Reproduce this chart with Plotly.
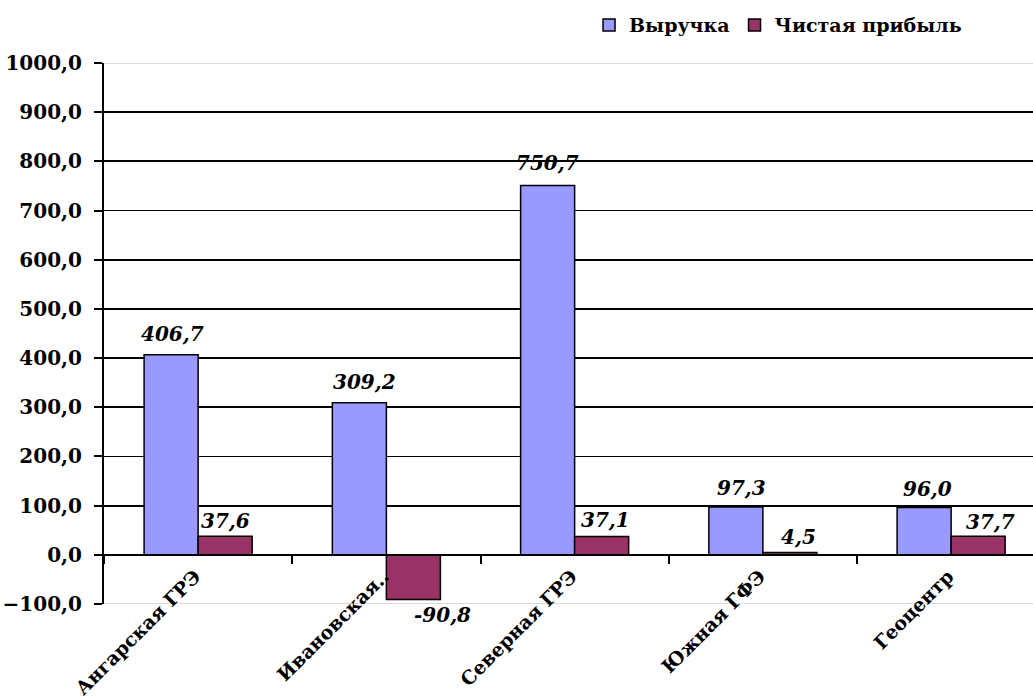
import plotly.graph_objects as go

categories = ["Ангарская ГРЭ", "Ивановская..", "Северная ГРЭ", "Южная ГФЭ", "Геоцентр"]
revenue = [406.7, 309.2, 750.7, 97.3, 96.0]
net_profit = [37.6, -90.8, 37.1, 4.5, 37.7]
series_names = ["Выручка", "Чистая прибыль"]
y_min, y_max, y_step = -100, 1000, 100

# ---- style / layout (not data) ----
FONT = "DejaVu Serif"
W, H = 1033, 699
ML, MT, MB, MR = 104, 63, 95, 0
plot_w = W - ML - MR
cat_px = 188.25                       # pixel width of one category slot
x_span = plot_w / cat_px              # plot area runs past the right edge (cropped)
bargap = 0.426
bar_px = (1 - bargap) * cat_px / 2
# manual label nudges (pixels) as in the original chart
rev_dx, rev_dy = [1, 5, 0, 6, 3], [21, 21, 23, 19, 19]
np_dx, np_dy = [0, 29, 4, 9, 12], [15, -16, 17, 16, 14]

fig = go.Figure()
fig.add_trace(go.Bar(
    x=categories, y=revenue, name=series_names[0],
    marker=dict(color="#9999FF", line=dict(color="black", width=1.5)),
))
fig.add_trace(go.Bar(
    x=categories, y=net_profit, name=series_names[1],
    marker=dict(color="#993366", line=dict(color="black", width=1.5)),
))

label_font = dict(family=FONT, size=20, color="black", weight="bold", style="italic")
annotations = []
for i, c in enumerate(categories):
    annotations.append(dict(
        x=c, y=revenue[i], xref="x", yref="y", text=f"{revenue[i]:.1f}".replace(".", ","),
        showarrow=False, xanchor="center", yanchor="middle",
        xshift=-bar_px / 2 + rev_dx[i], yshift=rev_dy[i], font=label_font,
    ))
    annotations.append(dict(
        x=c, y=net_profit[i], xref="x", yref="y", text=f"{net_profit[i]:.1f}".replace(".", ","),
        showarrow=False, xanchor="center", yanchor="middle",
        xshift=bar_px / 2 + np_dx[i], yshift=np_dy[i], font=label_font,
    ))

zero_pos = (0 - y_min) / (y_max - y_min)

fig.update_layout(
    width=W, height=H,
    margin=dict(l=ML, r=MR, t=MT, b=MB, autoexpand=False),
    paper_bgcolor="white", plot_bgcolor="white",
    separators=", ",
    barmode="group", bargap=bargap, bargroupgap=0,
    font=dict(family=FONT, size=19, color="black", weight="bold"),
    legend=dict(
        orientation="h", x=0.929, xanchor="right", y=1.070, yanchor="middle",
        font=dict(family=FONT, size=19, color="black", weight="bold"),
        itemwidth=30, tracegroupgap=0, bgcolor="rgba(0,0,0,0)",
    ),
    showlegend=True,
    hovermode=False,
    annotations=annotations,
    shapes=[
        dict(type="line", xref="paper", yref="y", x0=0, x1=1, y0=v, y1=v,
             line=dict(color="#D9D9D9", width=2), layer="below")
        for v in (y_min, y_max)
    ],
)

fig.update_xaxes(
    range=[-0.5, -0.5 + x_span],
    anchor="free", position=zero_pos,
    showline=True, linecolor="black", linewidth=2,
    ticks="outside", tickson="boundaries", ticklen=8, tickwidth=2, tickcolor="black",
    tickangle=-45, showgrid=False, zeroline=False,
    ticklabelstandoff=2, ticklabelshift=-3,
    tickfont=dict(family=FONT, size=19, color="black", weight="bold"),
    automargin=False,
)
fig.update_yaxes(
    range=[y_min, y_max], dtick=y_step, tickformat=".1f",
    showline=True, linecolor="black", linewidth=2,
    ticks="outside", ticklen=8, tickwidth=2, tickcolor="black",
    ticklabelstandoff=8,
    showgrid=True, gridcolor="black", gridwidth=1.8,
    zeroline=True, zerolinecolor="black", zerolinewidth=2,
    tickfont=dict(family=FONT, size=20, color="black", weight="bold"),
    automargin=False,
)

fig.write_html(
    "out.html",
    config={"displayModeBar": False, "staticPlot": True},
    post_script="document.body.style.margin='0';document.body.style.overflow='hidden';",
)
